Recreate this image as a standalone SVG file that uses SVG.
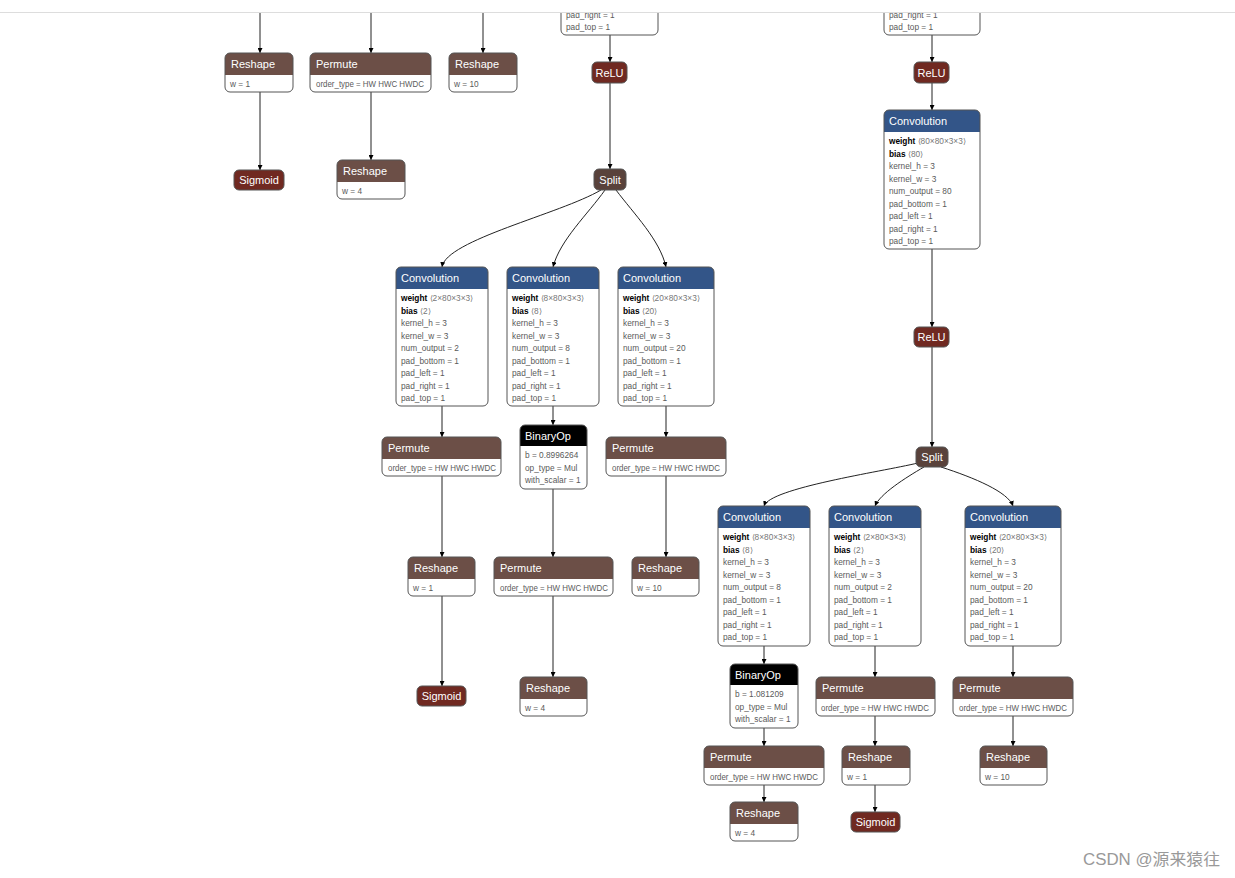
<svg xmlns="http://www.w3.org/2000/svg" width="1235" height="878" viewBox="0 0 1235 878">
<defs>
<style>
.bg{fill:#fff}
.body{fill:#fff;stroke:none}
.ol{fill:none;stroke:#555;stroke-width:1}
.shape{fill:#6c4f47}
.conv{fill:#335588}
.act{fill:#702921}
.tens{fill:#59423b}
.bin{fill:#000}
.ht{font-family:"Liberation Sans",Arial,sans-serif;font-size:11px;fill:#fff}
.hc{font-family:"Liberation Sans",Arial,sans-serif;font-size:11px;fill:#fff;text-anchor:middle}
.at{font-family:"Liberation Sans",Arial,sans-serif;font-size:8.3px;fill:#5a5a5a}
.b{font-weight:bold;fill:#000}
.g{fill:#777}
.e{fill:none;stroke:#222;stroke-width:1;marker-end:url(#ah)}
.wm{font-family:"Liberation Sans","Noto Sans CJK SC",sans-serif;font-size:16px;fill:#999}
</style>
<marker id="ah" viewBox="0 0 10 10" refX="10" refY="5" markerWidth="5" markerHeight="5" orient="auto" markerUnits="userSpaceOnUse">
<path d="M0,0L10,5L0,10z" fill="#000"/>
</marker>
</defs>
<rect class="bg" width="1235" height="878"/>

<g id="connectors">
<path class="e" d="M260,12V53"/>
<path class="e" d="M260,92V170"/>
<path class="e" d="M371,12V53"/>
<path class="e" d="M371,92V160"/>
<path class="e" d="M483,12V53"/>
<path class="e" d="M610,35V62"/>
<path class="e" d="M610,83V169"/>
<path class="e" d="M601,190C560,214 446,240 442,267"/>
<path class="e" d="M605,190C588,214 560,240 553,267"/>
<path class="e" d="M616,190C634,214 660,240 666,267"/>
<path class="e" d="M442,406V437"/>
<path class="e" d="M553,406V425"/>
<path class="e" d="M666,406V437"/>
<path class="e" d="M442,476V557"/>
<path class="e" d="M553,489V557"/>
<path class="e" d="M666,476V557"/>
<path class="e" d="M442,596V686"/>
<path class="e" d="M553,596V677"/>
<path class="e" d="M932,35V62"/>
<path class="e" d="M932,83V110"/>
<path class="e" d="M932,249V327"/>
<path class="e" d="M932,347V447"/>
<path class="e" d="M918,463C880,472 770,488 764,506"/>
<path class="e" d="M924,467C905,478 880,494 875,506"/>
<path class="e" d="M941,467C975,478 1008,492 1013,506"/>
<path class="e" d="M764,646V664"/>
<path class="e" d="M875,646V677"/>
<path class="e" d="M1013,646V677"/>
<path class="e" d="M764,728V746"/>
<path class="e" d="M875,716V746"/>
<path class="e" d="M1013,716V746"/>
<path class="e" d="M764,785V802"/>
<path class="e" d="M875,785V812"/>
</g>

<g id="conv_top_mid" transform="translate(561,-104)">
<rect class="body" width="97" height="139" rx="5"/>
<rect class="ol" width="97" height="139" rx="5"/>
<text class="at" x="5" y="121.5">pad_right = 1</text>
<text class="at" x="5" y="134">pad_top = 1</text>
</g>
<g id="conv_top_right" transform="translate(884,-104)">
<rect class="body" width="96" height="139" rx="5"/>
<rect class="ol" width="96" height="139" rx="5"/>
<text class="at" x="5" y="121.5">pad_right = 1</text>
<text class="at" x="5" y="134">pad_top = 1</text>
</g>

<g id="reshape_a" transform="translate(225,53)">
<rect class="body" width="68" height="39" rx="5"/>
<path class="shape" d="M0,5a5,5 0 0 1 5,-5h58a5,5 0 0 1 5,5v17H0z"/>
<rect class="ol" width="68" height="39" rx="5"/>
<text class="ht" x="6" y="15">Reshape</text>
<text class="at" x="5" y="34">w = 1</text>
</g>
<g id="permute_a" transform="translate(310,53)">
<rect class="body" width="121" height="39" rx="5"/>
<path class="shape" d="M0,5a5,5 0 0 1 5,-5h111a5,5 0 0 1 5,5v17H0z"/>
<rect class="ol" width="121" height="39" rx="5"/>
<text class="ht" x="6" y="15">Permute</text>
<text class="at" x="6" y="34" textLength="108" lengthAdjust="spacingAndGlyphs">order_type = HW HWC HWDC</text>
</g>
<g id="reshape_b" transform="translate(449,53)">
<rect class="body" width="68" height="39" rx="5"/>
<path class="shape" d="M0,5a5,5 0 0 1 5,-5h58a5,5 0 0 1 5,5v17H0z"/>
<rect class="ol" width="68" height="39" rx="5"/>
<text class="ht" x="6" y="15">Reshape</text>
<text class="at" x="5" y="34">w = 10</text>
</g>
<g id="sigmoid_a" transform="translate(234,170)">
<rect class="act" width="50" height="20" rx="5"/>
<rect class="ol" width="50" height="20" rx="5"/>
<text class="hc" x="25" y="14">Sigmoid</text>
</g>
<g id="reshape_c" transform="translate(337,160)">
<rect class="body" width="68" height="39" rx="5"/>
<path class="shape" d="M0,5a5,5 0 0 1 5,-5h58a5,5 0 0 1 5,5v17H0z"/>
<rect class="ol" width="68" height="39" rx="5"/>
<text class="ht" x="6" y="15">Reshape</text>
<text class="at" x="5" y="34">w = 4</text>
</g>

<g id="relu_a" transform="translate(592,62)">
<rect class="act" width="35" height="21" rx="5"/>
<rect class="ol" width="35" height="21" rx="5"/>
<text class="hc" x="17.5" y="14.5">ReLU</text>
</g>
<g id="split_a" transform="translate(594,169)">
<rect class="tens" width="32" height="21" rx="5"/>
<rect class="ol" width="32" height="21" rx="5"/>
<text class="hc" x="16" y="14.5">Split</text>
</g>

<g id="conv_a1" transform="translate(396,267)">
<rect class="body" width="92" height="139" rx="5"/>
<path class="conv" d="M0,5a5,5 0 0 1 5,-5h82a5,5 0 0 1 5,5v17H0z"/>
<rect class="ol" width="92" height="139" rx="5"/>
<text class="ht" x="5" y="15">Convolution</text>
<text class="at" x="5" y="34"><tspan class="b">weight</tspan><tspan class="g"> ⟨2×80×3×3⟩</tspan></text>
<text class="at" x="5" y="46.5"><tspan class="b">bias</tspan><tspan class="g"> ⟨2⟩</tspan></text>
<text class="at" x="5" y="59">kernel_h = 3</text>
<text class="at" x="5" y="71.5">kernel_w = 3</text>
<text class="at" x="5" y="84">num_output = 2</text>
<text class="at" x="5" y="96.5">pad_bottom = 1</text>
<text class="at" x="5" y="109">pad_left = 1</text>
<text class="at" x="5" y="121.5">pad_right = 1</text>
<text class="at" x="5" y="134">pad_top = 1</text>
</g>
<g id="conv_a2" transform="translate(507,267)">
<rect class="body" width="92" height="139" rx="5"/>
<path class="conv" d="M0,5a5,5 0 0 1 5,-5h82a5,5 0 0 1 5,5v17H0z"/>
<rect class="ol" width="92" height="139" rx="5"/>
<text class="ht" x="5" y="15">Convolution</text>
<text class="at" x="5" y="34"><tspan class="b">weight</tspan><tspan class="g"> ⟨8×80×3×3⟩</tspan></text>
<text class="at" x="5" y="46.5"><tspan class="b">bias</tspan><tspan class="g"> ⟨8⟩</tspan></text>
<text class="at" x="5" y="59">kernel_h = 3</text>
<text class="at" x="5" y="71.5">kernel_w = 3</text>
<text class="at" x="5" y="84">num_output = 8</text>
<text class="at" x="5" y="96.5">pad_bottom = 1</text>
<text class="at" x="5" y="109">pad_left = 1</text>
<text class="at" x="5" y="121.5">pad_right = 1</text>
<text class="at" x="5" y="134">pad_top = 1</text>
</g>
<g id="conv_a3" transform="translate(618,267)">
<rect class="body" width="96" height="139" rx="5"/>
<path class="conv" d="M0,5a5,5 0 0 1 5,-5h86a5,5 0 0 1 5,5v17H0z"/>
<rect class="ol" width="96" height="139" rx="5"/>
<text class="ht" x="5" y="15">Convolution</text>
<text class="at" x="5" y="34"><tspan class="b">weight</tspan><tspan class="g"> ⟨20×80×3×3⟩</tspan></text>
<text class="at" x="5" y="46.5"><tspan class="b">bias</tspan><tspan class="g"> ⟨20⟩</tspan></text>
<text class="at" x="5" y="59">kernel_h = 3</text>
<text class="at" x="5" y="71.5">kernel_w = 3</text>
<text class="at" x="5" y="84">num_output = 20</text>
<text class="at" x="5" y="96.5">pad_bottom = 1</text>
<text class="at" x="5" y="109">pad_left = 1</text>
<text class="at" x="5" y="121.5">pad_right = 1</text>
<text class="at" x="5" y="134">pad_top = 1</text>
</g>

<g id="permute_b" transform="translate(382,437)">
<rect class="body" width="119" height="39" rx="5"/>
<path class="shape" d="M0,5a5,5 0 0 1 5,-5h109a5,5 0 0 1 5,5v17H0z"/>
<rect class="ol" width="119" height="39" rx="5"/>
<text class="ht" x="6" y="15">Permute</text>
<text class="at" x="6" y="34" textLength="108" lengthAdjust="spacingAndGlyphs">order_type = HW HWC HWDC</text>
</g>
<g id="binop_a" transform="translate(520,425)">
<rect class="body" width="67" height="64" rx="5"/>
<path class="bin" d="M0,5a5,5 0 0 1 5,-5h57a5,5 0 0 1 5,5v16H0z"/>
<rect class="ol" width="67" height="64" rx="5"/>
<text class="ht" x="5" y="15">BinaryOp</text>
<text class="at" x="5" y="33">b = 0.8996264</text>
<text class="at" x="5" y="46">op_type = Mul</text>
<text class="at" x="5" y="58">with_scalar = 1</text>
</g>
<g id="permute_c" transform="translate(606,437)">
<rect class="body" width="120" height="39" rx="5"/>
<path class="shape" d="M0,5a5,5 0 0 1 5,-5h110a5,5 0 0 1 5,5v17H0z"/>
<rect class="ol" width="120" height="39" rx="5"/>
<text class="ht" x="6" y="15">Permute</text>
<text class="at" x="6" y="34" textLength="108" lengthAdjust="spacingAndGlyphs">order_type = HW HWC HWDC</text>
</g>
<g id="reshape_d" transform="translate(408,557)">
<rect class="body" width="67" height="39" rx="5"/>
<path class="shape" d="M0,5a5,5 0 0 1 5,-5h57a5,5 0 0 1 5,5v17H0z"/>
<rect class="ol" width="67" height="39" rx="5"/>
<text class="ht" x="6" y="15">Reshape</text>
<text class="at" x="5" y="34">w = 1</text>
</g>
<g id="permute_d" transform="translate(494,557)">
<rect class="body" width="119" height="39" rx="5"/>
<path class="shape" d="M0,5a5,5 0 0 1 5,-5h109a5,5 0 0 1 5,5v17H0z"/>
<rect class="ol" width="119" height="39" rx="5"/>
<text class="ht" x="6" y="15">Permute</text>
<text class="at" x="6" y="34" textLength="108" lengthAdjust="spacingAndGlyphs">order_type = HW HWC HWDC</text>
</g>
<g id="reshape_e" transform="translate(632,557)">
<rect class="body" width="67" height="39" rx="5"/>
<path class="shape" d="M0,5a5,5 0 0 1 5,-5h57a5,5 0 0 1 5,5v17H0z"/>
<rect class="ol" width="67" height="39" rx="5"/>
<text class="ht" x="6" y="15">Reshape</text>
<text class="at" x="5" y="34">w = 10</text>
</g>
<g id="sigmoid_b" transform="translate(417,686)">
<rect class="act" width="49" height="20" rx="5"/>
<rect class="ol" width="49" height="20" rx="5"/>
<text class="hc" x="24.5" y="14">Sigmoid</text>
</g>
<g id="reshape_f" transform="translate(520,677)">
<rect class="body" width="67" height="39" rx="5"/>
<path class="shape" d="M0,5a5,5 0 0 1 5,-5h57a5,5 0 0 1 5,5v17H0z"/>
<rect class="ol" width="67" height="39" rx="5"/>
<text class="ht" x="6" y="15">Reshape</text>
<text class="at" x="5" y="34">w = 4</text>
</g>

<g id="relu_b" transform="translate(914,62)">
<rect class="act" width="35" height="21" rx="5"/>
<rect class="ol" width="35" height="21" rx="5"/>
<text class="hc" x="17.5" y="14.5">ReLU</text>
</g>
<g id="conv_b0" transform="translate(884,110)">
<rect class="body" width="96" height="139" rx="5"/>
<path class="conv" d="M0,5a5,5 0 0 1 5,-5h86a5,5 0 0 1 5,5v17H0z"/>
<rect class="ol" width="96" height="139" rx="5"/>
<text class="ht" x="5" y="15">Convolution</text>
<text class="at" x="5" y="34"><tspan class="b">weight</tspan><tspan class="g"> ⟨80×80×3×3⟩</tspan></text>
<text class="at" x="5" y="46.5"><tspan class="b">bias</tspan><tspan class="g"> ⟨80⟩</tspan></text>
<text class="at" x="5" y="59">kernel_h = 3</text>
<text class="at" x="5" y="71.5">kernel_w = 3</text>
<text class="at" x="5" y="84">num_output = 80</text>
<text class="at" x="5" y="96.5">pad_bottom = 1</text>
<text class="at" x="5" y="109">pad_left = 1</text>
<text class="at" x="5" y="121.5">pad_right = 1</text>
<text class="at" x="5" y="134">pad_top = 1</text>
</g>
<g id="relu_c" transform="translate(914,327)">
<rect class="act" width="35" height="20" rx="5"/>
<rect class="ol" width="35" height="20" rx="5"/>
<text class="hc" x="17.5" y="14">ReLU</text>
</g>
<g id="split_b" transform="translate(916,447)">
<rect class="tens" width="32" height="20" rx="5"/>
<rect class="ol" width="32" height="20" rx="5"/>
<text class="hc" x="16" y="14">Split</text>
</g>

<g id="conv_b1" transform="translate(718,506)">
<rect class="body" width="92" height="140" rx="5"/>
<path class="conv" d="M0,5a5,5 0 0 1 5,-5h82a5,5 0 0 1 5,5v17H0z"/>
<rect class="ol" width="92" height="140" rx="5"/>
<text class="ht" x="5" y="15">Convolution</text>
<text class="at" x="5" y="34"><tspan class="b">weight</tspan><tspan class="g"> ⟨8×80×3×3⟩</tspan></text>
<text class="at" x="5" y="46.5"><tspan class="b">bias</tspan><tspan class="g"> ⟨8⟩</tspan></text>
<text class="at" x="5" y="59">kernel_h = 3</text>
<text class="at" x="5" y="71.5">kernel_w = 3</text>
<text class="at" x="5" y="84">num_output = 8</text>
<text class="at" x="5" y="96.5">pad_bottom = 1</text>
<text class="at" x="5" y="109">pad_left = 1</text>
<text class="at" x="5" y="121.5">pad_right = 1</text>
<text class="at" x="5" y="134">pad_top = 1</text>
</g>
<g id="conv_b2" transform="translate(829,506)">
<rect class="body" width="92" height="140" rx="5"/>
<path class="conv" d="M0,5a5,5 0 0 1 5,-5h82a5,5 0 0 1 5,5v17H0z"/>
<rect class="ol" width="92" height="140" rx="5"/>
<text class="ht" x="5" y="15">Convolution</text>
<text class="at" x="5" y="34"><tspan class="b">weight</tspan><tspan class="g"> ⟨2×80×3×3⟩</tspan></text>
<text class="at" x="5" y="46.5"><tspan class="b">bias</tspan><tspan class="g"> ⟨2⟩</tspan></text>
<text class="at" x="5" y="59">kernel_h = 3</text>
<text class="at" x="5" y="71.5">kernel_w = 3</text>
<text class="at" x="5" y="84">num_output = 2</text>
<text class="at" x="5" y="96.5">pad_bottom = 1</text>
<text class="at" x="5" y="109">pad_left = 1</text>
<text class="at" x="5" y="121.5">pad_right = 1</text>
<text class="at" x="5" y="134">pad_top = 1</text>
</g>
<g id="conv_b3" transform="translate(965,506)">
<rect class="body" width="96" height="140" rx="5"/>
<path class="conv" d="M0,5a5,5 0 0 1 5,-5h86a5,5 0 0 1 5,5v17H0z"/>
<rect class="ol" width="96" height="140" rx="5"/>
<text class="ht" x="5" y="15">Convolution</text>
<text class="at" x="5" y="34"><tspan class="b">weight</tspan><tspan class="g"> ⟨20×80×3×3⟩</tspan></text>
<text class="at" x="5" y="46.5"><tspan class="b">bias</tspan><tspan class="g"> ⟨20⟩</tspan></text>
<text class="at" x="5" y="59">kernel_h = 3</text>
<text class="at" x="5" y="71.5">kernel_w = 3</text>
<text class="at" x="5" y="84">num_output = 20</text>
<text class="at" x="5" y="96.5">pad_bottom = 1</text>
<text class="at" x="5" y="109">pad_left = 1</text>
<text class="at" x="5" y="121.5">pad_right = 1</text>
<text class="at" x="5" y="134">pad_top = 1</text>
</g>

<g id="binop_b" transform="translate(730,664)">
<rect class="body" width="68" height="64" rx="5"/>
<path class="bin" d="M0,5a5,5 0 0 1 5,-5h58a5,5 0 0 1 5,5v16H0z"/>
<rect class="ol" width="68" height="64" rx="5"/>
<text class="ht" x="5" y="15">BinaryOp</text>
<text class="at" x="5" y="33">b = 1.081209</text>
<text class="at" x="5" y="46">op_type = Mul</text>
<text class="at" x="5" y="58">with_scalar = 1</text>
</g>
<g id="permute_e" transform="translate(816,677)">
<rect class="body" width="119" height="39" rx="5"/>
<path class="shape" d="M0,5a5,5 0 0 1 5,-5h109a5,5 0 0 1 5,5v17H0z"/>
<rect class="ol" width="119" height="39" rx="5"/>
<text class="ht" x="6" y="15">Permute</text>
<text class="at" x="5" y="34" textLength="108" lengthAdjust="spacingAndGlyphs">order_type = HW HWC HWDC</text>
</g>
<g id="permute_f" transform="translate(953,677)">
<rect class="body" width="120" height="39" rx="5"/>
<path class="shape" d="M0,5a5,5 0 0 1 5,-5h110a5,5 0 0 1 5,5v17H0z"/>
<rect class="ol" width="120" height="39" rx="5"/>
<text class="ht" x="6" y="15">Permute</text>
<text class="at" x="6" y="34" textLength="108" lengthAdjust="spacingAndGlyphs">order_type = HW HWC HWDC</text>
</g>
<g id="permute_g" transform="translate(704,746)">
<rect class="body" width="120" height="39" rx="5"/>
<path class="shape" d="M0,5a5,5 0 0 1 5,-5h110a5,5 0 0 1 5,5v17H0z"/>
<rect class="ol" width="120" height="39" rx="5"/>
<text class="ht" x="6" y="15">Permute</text>
<text class="at" x="6" y="34" textLength="108" lengthAdjust="spacingAndGlyphs">order_type = HW HWC HWDC</text>
</g>
<g id="reshape_g" transform="translate(842,746)">
<rect class="body" width="68" height="39" rx="5"/>
<path class="shape" d="M0,5a5,5 0 0 1 5,-5h58a5,5 0 0 1 5,5v17H0z"/>
<rect class="ol" width="68" height="39" rx="5"/>
<text class="ht" x="6" y="15">Reshape</text>
<text class="at" x="5" y="34">w = 1</text>
</g>
<g id="reshape_h" transform="translate(980,746)">
<rect class="body" width="67" height="39" rx="5"/>
<path class="shape" d="M0,5a5,5 0 0 1 5,-5h57a5,5 0 0 1 5,5v17H0z"/>
<rect class="ol" width="67" height="39" rx="5"/>
<text class="ht" x="6" y="15">Reshape</text>
<text class="at" x="5" y="34">w = 10</text>
</g>
<g id="reshape_i" transform="translate(730,802)">
<rect class="body" width="68" height="39" rx="5"/>
<path class="shape" d="M0,5a5,5 0 0 1 5,-5h58a5,5 0 0 1 5,5v17H0z"/>
<rect class="ol" width="68" height="39" rx="5"/>
<text class="ht" x="6" y="15">Reshape</text>
<text class="at" x="5" y="34">w = 4</text>
</g>
<g id="sigmoid_c" transform="translate(851,812)">
<rect class="act" width="49" height="20" rx="5"/>
<rect class="ol" width="49" height="20" rx="5"/>
<text class="hc" x="24.5" y="14">Sigmoid</text>
</g>

<rect x="0" y="0" width="1235" height="12" fill="#fff"/>
<line x1="0" y1="12.5" x2="1235" y2="12.5" stroke="#ddd" stroke-width="1"/>
<text class="wm" x="1083" y="865" textLength="137" lengthAdjust="spacingAndGlyphs">CSDN @源来猿往</text>
</svg>
